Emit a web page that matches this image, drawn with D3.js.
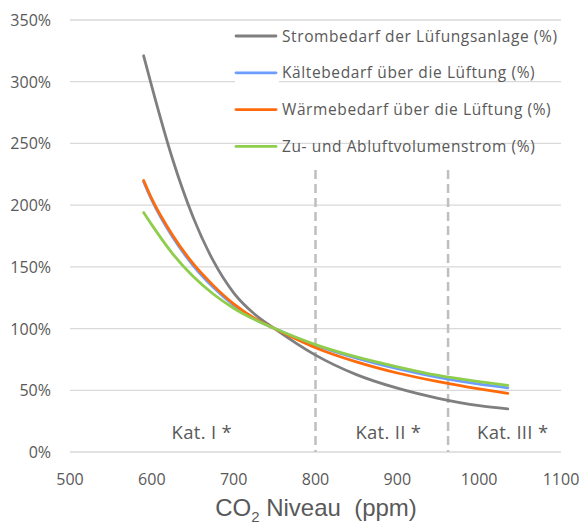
<!DOCTYPE html>
<html>
<head>
<meta charset="utf-8">
<script src="https://cdn.jsdelivr.net/npm/d3@7"></script>
<style>
  body { margin: 0; background: #fff; }
  text { font-family: "Open Sans", "Noto Sans", sans-serif; fill: #595959; }
</style>
</head>
<body>
<div id="svg-holder"></div>
<script>
const co2 = [590, 600, 625, 650, 675, 700, 725, 750, 800, 850, 900, 950, 1000, 1035]

// series values in %
const strombedarf = [321, 296, 238, 191, 155, 129, 112, 100, 78.5, 62.7, 51.7, 43.5, 37.5, 35]
const kaeltebedarf = [219, 204, 174.5, 151.5, 133.5, 119, 108, 100, 86.5, 76, 67.5, 60.5, 55, 52]
const waermebedarf = [220, 205, 176, 153, 135, 120, 108.5, 100, 84.5, 73, 64, 57, 51.1, 47.5]
const volumenstrom = [194, 184, 161, 142.5, 128, 116.5, 107.5, 100, 87, 77, 69, 62, 57, 54]

const seriesNames = [
  "Strombedarf der Lüfungsanlage (%)",
  "Kältebedarf über die Lüftung (%)",
  "Wärmebedarf über die Lüftung (%)",
  "Zu- und Abluftvolumenstrom (%)"
]
const seriesColors = ["#7f7f7f", "#6d9eff", "#ff6a0a", "#8fce4c"]

// category borders and labels
const katBorders = [800, 962]
const katLabels = [{x: 661, label: "Kat. I *"}, {x: 889, label: "Kat. II *"}, {x: 1041, label: "Kat. III *"}]

const xTicks = [500, 600, 700, 800, 900, 1000, 1100]
const yTicks = [0, 50, 100, 150, 200, 250, 300, 350]

let width = 584,
    height = 524

let svg = d3.select("#svg-holder").append('svg')
    .attr("width", width)
    .attr("height", height)

let x = d3.scaleLinear()
    .domain([500, 1100])
    .range([70, 561])

let y = d3.scaleLinear()
    .domain([0, 350])
    .range([452, 20])

// gridlines
svg.append('g')
    .selectAll('line')
    .data(yTicks)
    .enter()
    .append('line')
        .attr('x1', x(500))
        .attr('x2', x(1100))
        .attr('y1', d => y(d))
        .attr('y2', d => y(d))
        .attr('stroke', '#d9d9d9')
        .attr('stroke-width', 1.3)

// y labels
svg.append('g')
    .selectAll('text')
    .data(yTicks)
    .enter()
    .append('text')
        .attr('x', 51)
        .attr('y', d => y(d) + 6)
        .attr('text-anchor', 'end')
        .style('font-size', '16px')
        .text(d => d + '%')

// x labels
svg.append('g')
    .selectAll('text')
    .data(xTicks)
    .enter()
    .append('text')
        .attr('x', d => x(d))
        .attr('y', 485)
        .attr('text-anchor', 'middle')
        .style('font-size', '16px')
        .text(d => d)

// axis title
let title = svg.append('text')
    .attr('x', 316)
    .attr('y', 516)
    .attr('text-anchor', 'middle')
    .style('font-size', '24px')
    .style('font-family', '"Liberation Sans", Arial, sans-serif')
title.append('tspan').text('CO')
title.append('tspan').attr('dy', 6).style('font-size', '15px').text('2')
title.append('tspan').attr('dy', -6).text(' Niveau\u00a0\u00a0(ppm)')

// category dashed borders
svg.append('g')
    .selectAll('line')
    .data(katBorders)
    .enter()
    .append('line')
        .attr('x1', d => x(d))
        .attr('x2', d => x(d))
        .attr('y1', 170)
        .attr('y2', y(0))
        .attr('stroke', '#bfbfbf')
        .attr('stroke-width', 2.5)
        .attr('stroke-dasharray', '9,5')

svg.append('g')
    .selectAll('text')
    .data(katLabels)
    .enter()
    .append('text')
        .attr('x', d => x(d.x))
        .attr('y', 439)
        .attr('text-anchor', 'middle')
        .style('font-size', '18.5px')
        .style('letter-spacing', '0.3px')
        .text(d => d.label)

// lines
let allSeries = [strombedarf, kaeltebedarf, waermebedarf, volumenstrom]
let line = d3.line()
    .x((d, i) => x(co2[i]))
    .y(d => y(d))
    .curve(d3.curveMonotoneX)

svg.append('g')
    .selectAll('path')
    .data(allSeries)
    .enter()
    .append('path')
        .attr('d', d => line(d))
        .attr('fill', 'none')
        .attr('stroke', (d, i) => seriesColors[i])
        .attr('stroke-width', 2.8)
        .attr('stroke-linecap', 'round')

// legend
let legend = svg.append('g')
    .selectAll('g')
    .data(seriesNames)
    .enter()
    .append('g')
        .attr('transform', (d, i) => `translate(236, ${36 + i * 36.8})`)

legend.append('rect')
    .attr('x', -1)
    .attr('y', 8)
    .attr('width', 44)
    .attr('height', 2)
    .attr('fill', '#fff')
legend.append('line')
    .attr('x1', 0)
    .attr('x2', 40)
    .attr('y1', 0)
    .attr('y2', 0)
    .attr('stroke', (d, i) => seriesColors[i])
    .attr('stroke-width', 2.8)
    .attr('stroke-linecap', 'round')
legend.append('text')
    .attr('x', 46)
    .attr('y', 5.5)
    .style('font-size', '15.5px')
    .style('letter-spacing', '0.6px')
    .text(d => d)
</script>
</body>
</html>
